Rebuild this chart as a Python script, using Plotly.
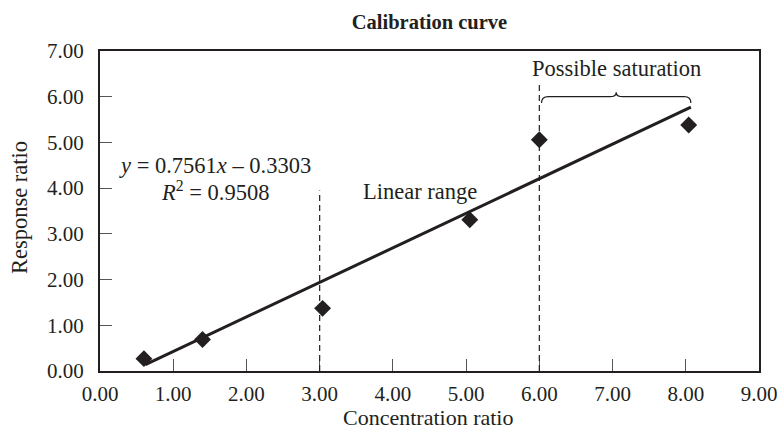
import plotly.graph_objects as go

# Calibration standards: concentration ratio vs. response ratio
conc_ratio = [0.60, 1.40, 3.04, 5.05, 6.00, 8.04]
resp_ratio = [0.27, 0.69, 1.37, 3.31, 5.06, 5.38]

# Least-squares fit reported on the chart
slope = 0.7561
intercept = -0.3303
r_squared = 0.9508
fit_x = [0.62, 8.07]
fit_y = [slope * x + intercept for x in fit_x]

# Boundaries of the linear range / saturation region
range_marks_x = [3.0, 6.0]
range_marks_top = [3.95, 6.32]

x_ticks = [0, 1, 2, 3, 4, 5, 6, 7, 8, 9]
y_ticks = [0, 1, 2, 3, 4, 5, 6, 7]

FONT = "Liberation Serif, Times New Roman, serif"
INK = "#231f20"

fig = go.Figure()

fig.add_trace(go.Scatter(
    x=fit_x, y=fit_y, mode="lines",
    line=dict(color=INK, width=3),
    showlegend=False, hoverinfo="skip",
))
fig.add_trace(go.Scatter(
    x=conc_ratio, y=resp_ratio, mode="markers",
    marker=dict(symbol="diamond", size=13, color=INK),
    showlegend=False,
))

# Dashed dividers
for xv, top in zip(range_marks_x, range_marks_top):
    fig.add_shape(type="line", xref="x", yref="y",
                  x0=xv, x1=xv, y0=0, y1=top,
                  line=dict(color=INK, width=1.2, dash="6px,4px"))

# Curly brace over the saturation region
bx0, bx1, bxm = 6.03, 8.07, 7.05
by, bend, btip = 6.0, 5.86, 6.1
dx = 0.09
brace = (f"M {bx0},{bend} Q {bx0},{by} {bx0+dx},{by} L {bxm-dx},{by} "
         f"Q {bxm},{by} {bxm},{btip} Q {bxm},{by} {bxm+dx},{by} "
         f"L {bx1-dx},{by} Q {bx1},{by} {bx1},{bend}")
fig.add_shape(type="path", xref="x", yref="y", path=brace,
              line=dict(color=INK, width=1.2))

ann_font = dict(family=FONT, size=22.5, color=INK)
fig.add_annotation(x=1.57, y=4.50, xref="x", yref="y", showarrow=False,
                   text=f"<i>y</i> = {slope}<i>x</i> – {abs(intercept):.4f}",
                   font=ann_font)
fig.add_annotation(x=1.57, y=3.93, xref="x", yref="y", showarrow=False,
                   text=f"<i>R</i><sup>2</sup> = {r_squared}",
                   font=ann_font)
fig.add_annotation(x=4.37, y=3.92, xref="x", yref="y", showarrow=False,
                   text="Linear range", font=ann_font)
fig.add_annotation(x=7.05, y=6.62, xref="x", yref="y", showarrow=False,
                   text="Possible saturation", font=ann_font)

# Axis titles
fig.add_annotation(x=0.4977, y=-0.1916, xref="paper", yref="paper",
                   xanchor="center", yanchor="bottom", showarrow=False,
                   text="Concentration ratio",
                   font=dict(family=FONT, size=22, color=INK))
fig.add_annotation(x=-0.122, y=0.511, xref="paper", yref="paper",
                   xanchor="center", yanchor="middle", showarrow=False,
                   textangle=-90, text="Response ratio", font=ann_font)

axis_common = dict(
    showline=True, linecolor=INK, linewidth=2, mirror=True,
    ticks="inside", ticklen=12, tickwidth=1.2, tickcolor="#555",
    showgrid=False, zeroline=False, tickformat=".2f", automargin=False,
    tickfont=dict(family=FONT, size=21, color=INK),
)

fig.update_xaxes(range=[0, 9], tickvals=x_ticks, ticklabelstandoff=3,
                 **axis_common)
fig.update_yaxes(range=[0, 7], tickvals=y_ticks, ticklabelstandoff=10,
                 **axis_common)

fig.update_layout(
    width=778, height=432,
    margin=dict(l=100, r=19, t=51, b=61),
    paper_bgcolor="white", plot_bgcolor="white",
    title=dict(text="<b>Calibration curve</b>", x=0.552, xanchor="center",
               y=1 - 22 / 432, yanchor="middle", yref="container",
               font=dict(family=FONT, size=20.5, color=INK)),
)

fig.write_html("out.html")
